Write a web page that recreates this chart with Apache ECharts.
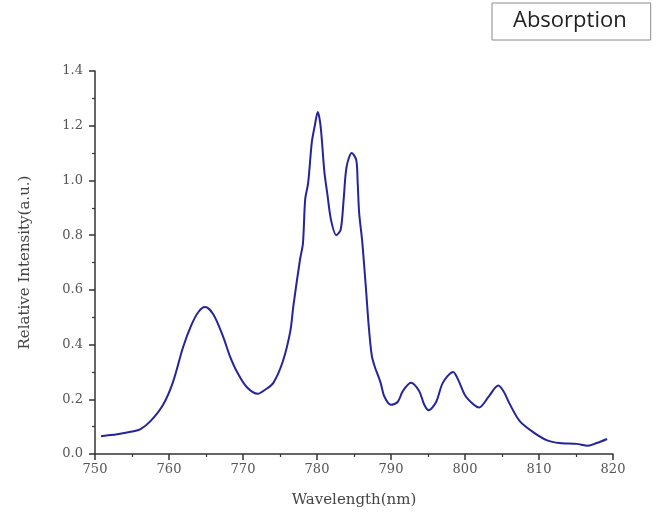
<!DOCTYPE html>
<html>
<head>
<meta charset="utf-8">
<script src="https://cdn.jsdelivr.net/npm/echarts@6/dist/echarts.min.js"></script>
<style>
html,body{margin:0;padding:0;background:#fff;}
#chart{width:657px;height:517px;}
</style>
</head>
<body>
<div id="chart"></div>
<script>
var seriesName = 'Absorption';
var xAxisTitle = 'Wavelength(nm)';
var yAxisTitle = 'Relative Intensity(a.u.)';

var wavelength = [750.8,753.0,755.0,756.1,757.5,759.2,760.5,761.9,763.0,764.0,764.9,766.0,767.3,768.2,769.2,770.5,772.0,773.0,774.1,775.4,776.4,776.8,777.7,778.1,778.4,778.8,779.3,779.7,780.1,780.5,781.0,781.4,781.9,782.6,783.2,783.6,784.0,784.7,785.3,785.5,785.7,786.1,786.6,787.0,787.4,787.8,788.6,789.1,790.0,790.9,791.6,792.7,793.8,794.5,795.1,796.1,797.0,798.4,799.1,800.0,801.2,801.9,803.2,804.5,805.3,806.0,807.4,809.2,811.1,812.8,815.1,816.6,817.8,819.2];
var intensity = [0.065,0.072,0.082,0.090,0.12,0.18,0.26,0.39,0.47,0.52,0.537,0.51,0.43,0.36,0.30,0.245,0.22,0.235,0.26,0.34,0.45,0.54,0.71,0.77,0.93,0.99,1.14,1.20,1.25,1.195,1.03,0.95,0.855,0.80,0.82,0.93,1.05,1.10,1.075,0.99,0.88,0.78,0.61,0.465,0.36,0.32,0.26,0.21,0.18,0.19,0.23,0.26,0.23,0.18,0.16,0.19,0.26,0.30,0.27,0.215,0.18,0.17,0.21,0.25,0.225,0.185,0.12,0.08,0.05,0.04,0.037,0.03,0.04,0.055];

var xTicks = [750,760,770,780,790,800,810,820];
var yTicks = [0.0,0.2,0.4,0.6,0.8,1.0,1.2,1.4];

var points = wavelength.map(function(w,i){return [w,intensity[i]];});

var labelFont = 'DejaVu Serif';
var chart = echarts.init(document.getElementById('chart'));
chart.setOption({
  animation:false,
  backgroundColor:'#fff',
  legend:{
    data:[{name:seriesName, icon:'none'}],
    left:492, top:3,
    itemWidth:0, itemHeight:0,
    padding:[7,24,8,16],
    borderColor:'#8a8a8a', borderWidth:1,
    textStyle:{fontFamily:'Open Sans', fontSize:22, color:'#222'}
  },
  grid:{left:95, right:44, top:71, bottom:63},
  xAxis:{
    type:'value', min:xTicks[0], max:xTicks[xTicks.length-1], interval:10,
    name:xAxisTitle, nameLocation:'middle', nameGap:39,
    nameTextStyle:{fontFamily:labelFont, fontSize:15, color:'#444'},
    axisLine:{show:true, onZero:false, lineStyle:{color:'#333', width:1.5}},
    axisTick:{show:true, inside:false, length:6, lineStyle:{color:'#333', width:1.5}},
    minorTick:{show:true, splitNumber:2, length:3, lineStyle:{color:'#333', width:1.2}},
    splitLine:{show:false},
    axisLabel:{margin:9, fontFamily:labelFont, fontSize:13, color:'#555'}
  },
  yAxis:{
    type:'value', min:yTicks[0], max:yTicks[yTicks.length-1], interval:0.2,
    name:yAxisTitle, nameLocation:'middle', nameGap:62,
    nameTextStyle:{fontFamily:labelFont, fontSize:15, color:'#444'},
    axisLine:{show:true, lineStyle:{color:'#333', width:1.5}},
    axisTick:{show:true, inside:false, length:6, lineStyle:{color:'#333', width:1.5}},
    minorTick:{show:true, splitNumber:2, length:3, lineStyle:{color:'#333', width:1.2}},
    splitLine:{show:false},
    axisLabel:{margin:12, fontFamily:labelFont, fontSize:13, color:'#555',
      formatter:function(v){return v.toFixed(1);}}
  },
  series:[{
    name:seriesName, type:'line', data:points,
    smooth:0.3, showSymbol:false, symbol:'none',
    lineStyle:{color:'#25249a', width:2},
    itemStyle:{color:'#25249a'}
  }]
});
</script>
</body>
</html>
